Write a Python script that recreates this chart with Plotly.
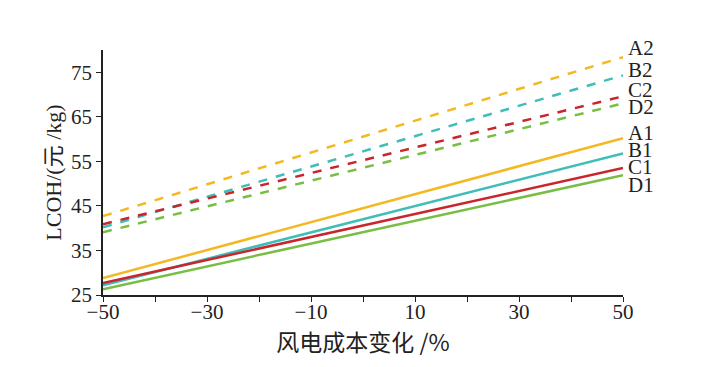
import plotly.graph_objects as go

x_vals = [-50, 50]
series_names = ["A2", "B2", "C2", "D2", "A1", "B1", "C1", "D1"]
A2 = [42.7, 78.4]
B2 = [40.2, 74.3]
C2 = [40.9, 69.6]
D2 = [39.1, 68.0]
A1 = [28.8, 60.2]
B1 = [27.2, 56.8]
C1 = [27.7, 53.5]
D1 = [26.3, 51.9]
y_ticks = [25, 35, 45, 55, 65, 75]
x_ticks = [-50, -40, -30, -20, -10, 0, 10, 20, 30, 40, 50]
x_tick_labels = ["−50", "", "−30", "", "−10", "", "10", "", "30", "", "50"]

values = [A2, B2, C2, D2, A1, B1, C1, D1]
colors = ["#F4B823", "#3FBDB8", "#C9252C", "#78BE43"] * 2
dashes = ["dash"] * 4 + ["solid"] * 4
Y_MIN, Y_MAX = 25, 80
# label vertical positions (data units) for the right-side labels
label_y = [80.4, 75.4, 71.1, 67.2, 61.4, 57.5, 53.7, 49.8]

fig = go.Figure()
for name, v, c, d in zip(series_names, values, colors, dashes):
    fig.add_trace(go.Scatter(x=x_vals, y=v, mode="lines", name=name,
                             line=dict(color=c, width=2.5, dash=d),
                             showlegend=False))

for name, ly in zip(series_names, label_y):
    fig.add_annotation(x=50, y=(ly - Y_MIN) / (Y_MAX - Y_MIN), yref="paper",
                       text=name, showarrow=False,
                       xanchor="left", yanchor="middle", xshift=3,
                       font=dict(family="Liberation Serif", size=21, color="#222"))

fig.update_layout(
    width=722, height=367,
    margin=dict(l=103, r=99, t=50, b=72),
    plot_bgcolor="white", paper_bgcolor="white",
    font=dict(family="Liberation Serif, Noto Sans CJK SC", size=20, color="#222"),
    xaxis=dict(range=[-50, 50], tickvals=x_ticks, ticktext=x_tick_labels,
               automargin=False,
               showgrid=False, zeroline=False, showline=True, linecolor="#222",
               linewidth=1.5, ticks="outside", ticklen=5, tickcolor="#222",
               tickwidth=1.2, ticklabelstandoff=-8,
               title=dict(text="风电成本变化 /%", standoff=6,
                          font=dict(family="Noto Sans CJK SC, Liberation Serif", size=23)),
               tickfont=dict(family="Liberation Serif", size=21)),
    yaxis=dict(range=[Y_MIN, Y_MAX], tickvals=y_ticks,
               automargin=False,
               showgrid=False, zeroline=False, showline=True, linecolor="#222",
               linewidth=1.5, ticks="outside", ticklen=5, tickcolor="#222",
               tickwidth=1.2,
               title=dict(text="LCOH/(元 /kg)", standoff=3,
                          font=dict(family="Liberation Serif, Noto Sans CJK SC", size=22)),
               tickfont=dict(family="Liberation Serif", size=21)),
)

fig.write_html("out.html", config={"displayModeBar": False},
               post_script="document.body.style.margin='0';document.body.style.overflow='hidden';")
